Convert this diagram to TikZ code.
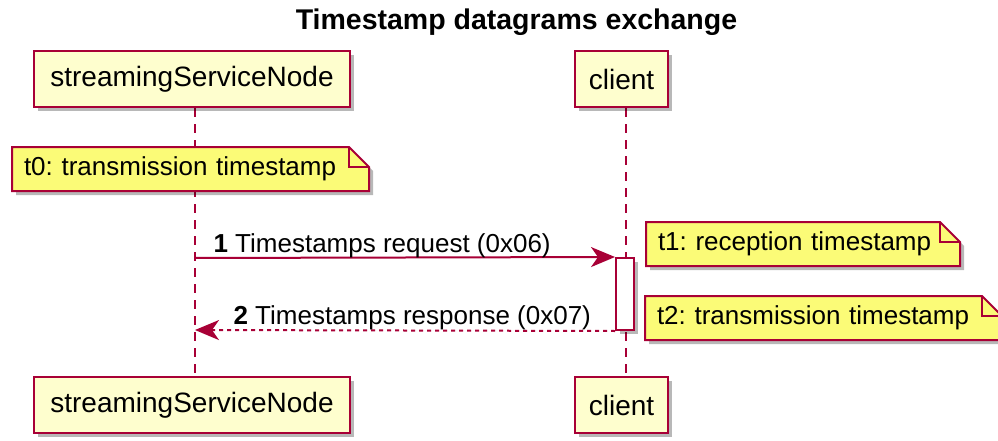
\documentclass[tikz,border=0pt]{standalone}
\usepackage{fontspec}
\setmainfont{Liberation Sans}
\usetikzlibrary{arrows.meta,shadows,backgrounds}
\definecolor{umlred}{HTML}{A80036}
\definecolor{umlbox}{HTML}{FEFECE}
\definecolor{umlnote}{HTML}{FBFB77}
\frenchspacing

\begin{document}
\begin{tikzpicture}[x=1pt, y=-1pt,
                    shade/.style={drop shadow={shadow xshift=4pt, shadow yshift=-4pt, fill=black, opacity=0.28}},
                    actor/.style={rectangle, draw=umlred, fill=umlbox, line width=2.5pt, inner sep=0pt, minimum height=56pt, font=\fontsize{28}{34}\selectfont, shade},
                    lifeline/.style={umlred, line width=2pt, dash pattern=on 9pt off 7pt},
                    note/.style={anchor=north west, align=left, inner xsep=12pt, inner ysep=0pt, outer sep=0pt, minimum height=44pt, font=\fontsize{26}{31}\selectfont},
                    notebg/.style={fill=umlnote, draw=umlred, line width=2pt, line join=miter},
                    activ/.style={rectangle, draw=umlred, fill=white, line width=2pt, inner sep=0pt, minimum width=18pt, minimum height=72pt, shade},
                    msg/.style={umlred, line width=2pt, -{Stealth[length=24pt, width=20pt, inset=7pt]}},
                    reply/.style={msg, dash pattern=on 4pt off 4pt},
                    msgtext/.style={anchor=base west, font=\fontsize{26}{31}\selectfont}]
                            \useasboundingbox (0, 0) rectangle (998, 441);

                            \node (title) at (516.5, 30) [anchor=base, font=\bfseries\fontsize{28.5}{34}\selectfont] {Timestamp datagrams exchange};

                            \node (ssnTop) at (192, 79) [actor, minimum width=316pt] {streamingServiceNode};
                            \node (clTop) at (621.5, 79) [actor, minimum width=93pt] {client};
                            \node (ssnBot) at (192, 405) [actor, minimum width=316pt] {streamingServiceNode};
                            \node (clBot) at (621.5, 405) [actor, minimum width=93pt] {client};

                            \node (t0) at (12, 147) [note, text width=333pt] {t0: transmission timestamp};
                            \node (t1) at (646, 222) [note, text width=290pt] {t1: reception timestamp};
                            \node (t2) at (645, 296) [note, text width=333pt] {t2: transmission timestamp};

                            \begin{scope}[on background layer]
                                \draw[lifeline] ([xshift=3pt]ssnTop.south) -- ([xshift=3pt]ssnBot.north);
                                \draw[lifeline] ([xshift=4.5pt]clTop.south) -- ([xshift=4.5pt]clBot.north);
                                \foreach \n in {t0, t1, t2} {
                                    \filldraw[notebg, shade] (\n.north west) -- ([xshift=-20pt]\n.north east) -- ([yshift=-20pt]\n.north east) -- (\n.south east) -- (\n.south west) -- cycle;
                                    \draw[notebg, fill=none] ([xshift=-20pt]\n.north east) |- ([yshift=-20pt]\n.north east);
                                }
                            \end{scope}

                            \node (act) at (625, 294) [activ] {};

                            \coordinate (m1) at (195, 258);
                            \coordinate (m2) at (195, 330);

                            \draw[msg] (m1) -- (act.north west);
                            \draw[reply] (act.south west) -- (m2);

                            \node (l1) at (210, 252) [msgtext] {\textbf{1} Timestamps request (0x06)};
                            \node (l2) at (230, 324) [msgtext] {\textbf{2} Timestamps response (0x07)};
                        \end{tikzpicture}
\end{document}
